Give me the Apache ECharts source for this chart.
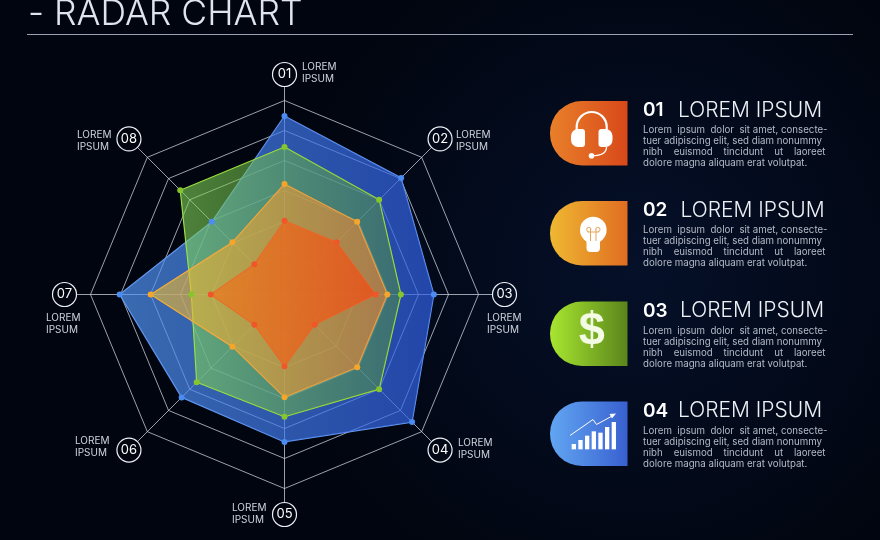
<!DOCTYPE html>
<html>
<head>
<meta charset="utf-8">
<style>html,body{margin:0;padding:0;background:#020818}#c{width:880px;height:540px}</style>
<script src="https://cdn.jsdelivr.net/npm/echarts@6/dist/echarts.min.js"></script>
</head>
<body>
<div id="c"></div>
<script>
const categories = ['01','02','03','04','05','06','07','08'];
const blueValues   = [92,85,77,93,76,75,85,53];
const greenValues  = [76,69,60,69,63,64,48,76];
const orangeValues = [57,53,53,53,53,38,69,38];
const redValues    = [38,38,47,22,37,22,38,22];
const axisMax = 100;
const ringRadii = [194,164,134,104,73,42];
const axisCaptions = [
  ['LOREM','IPSUM',302,67],['LOREM','IPSUM',456,135],['LOREM','IPSUM',487,318],['LOREM','IPSUM',458,443],
  ['LOREM','IPSUM',232,508],['LOREM','IPSUM',75,441],['LOREM','IPSUM',46,318],['LOREM','IPSUM',77,135]
];
const cardHeads = [['01','LOREM IPSUM',678],['02','LOREM IPSUM',680.5],['03','LOREM IPSUM',680],['04','LOREM IPSUM',678]];
const bodyLines = [
  'Lorem  ipsum  dolor  sit amet, consecte-',
  'tuer adipiscing elit, sed diam nonummy',
  'nibh    euismod    tincidunt    ut    laoreet',
  'dolore magna aliquam erat volutpat.'
];

const FONT = 'Inter, "Open Sans", sans-serif';
const center = [284.5, 294.5];
// ECharts lays radar axes out counter-clockwise; the chart reads clockwise from the top.
const cw = a => [a[0], ...a.slice(1).reverse()];
const indicator = () => cw(categories).map(n => ({name:n, min:0, max:axisMax}));
const ringColor = 'rgba(214,220,232,0.72)';

const radars = [{
  center, radius:208, startAngle:90, splitNumber:1, indicator:indicator(), shape:'polygon', nameGap:12,
  axisName:{show:true, align:'center', verticalAlign:'middle',
    formatter:n=>`{c|${n}}`,
    rich:{c:{width:24,height:24,lineHeight:24,align:'center',verticalAlign:'middle',borderRadius:12,borderWidth:1.2,borderColor:'#eef0f5',color:'#ffffff',fontSize:13,fontFamily:FONT,fontWeight:400}}},
  axisLine:{show:true,lineStyle:{color:ringColor,width:1}},
  axisTick:{show:false}, axisLabel:{show:false}, splitLine:{show:false}, splitArea:{show:false}
}].concat(ringRadii.map(r=>({
  center, radius:r, startAngle:90, splitNumber:1, indicator:indicator(), shape:'polygon',
  axisName:{show:false}, axisLine:{show:false}, axisTick:{show:false}, axisLabel:{show:false},
  splitLine:{show:false}, splitArea:{show:false}
})));

const ringSeries = ringRadii.map((r,i)=>({type:'radar',name:'ring',radarIndex:i+1,symbol:'none',silent:true,
  data:[{value:categories.map(()=>axisMax)}],lineStyle:{color:ringColor,width:1},areaStyle:{opacity:0}}));

const lg = (a,b)=>new echarts.graphic.LinearGradient(0,0,1,0,[{offset:0,color:a},{offset:1,color:b}]);
function radarSeries(name,vals,line,dot,a,b){
  return {type:'radar',name,radarIndex:1,symbol:'circle',symbolSize:6,
    data:[{value:cw(vals),name}],
    lineStyle:{color:line,width:1.2},
    itemStyle:{color:dot},
    areaStyle:{color:lg(a,b),opacity:1}};
}

const g = [];
g.push({type:'rect',z:-10,silent:true,shape:{x:0,y:0,width:880,height:540},style:{fill:new echarts.graphic.RadialGradient(0.72,0.5,0.65,[{offset:0,color:'#051029'},{offset:1,color:'#01050f'}])}});
g.push({type:'text',style:{x:28,y:14,text:'- RADAR CHART',fill:'#dfe4ee',font:'300 35.5px '+FONT,textVerticalAlign:'middle',verticalAlign:'middle'}});
g.push({type:'line',shape:{x1:27,y1:34.5,x2:853,y2:34.5},style:{stroke:'#9aa3b6',lineWidth:1}});

axisCaptions.forEach(c=>{
  [[c[0],c[3]],[c[1],c[3]+11.5]].forEach(t=>g.push({type:'text',style:{x:c[2],y:t[1],text:t[0],fill:'#cfd3dc',font:'400 10px '+FONT,verticalAlign:'middle',textVerticalAlign:'middle'}}));
});

const cards = [
  {y:101,a:'#e9802a',b:'#d8481a'},
  {y:201,a:'#efb832',b:'#e06d22'},
  {y:301.5,a:'#a8e630',b:'#5a851b'},
  {y:401.5,a:'#62a6f2',b:'#3860d0'}
];
cards.forEach((c,i)=>{
  g.push({type:'rect',shape:{x:550,y:c.y,width:77.5,height:64.5,r:[32,0,0,32]},style:{fill:lg(c.a,c.b)}});
  g.push({type:'text',style:{x:643,y:c.y+9.5,text:cardHeads[i][0],fill:'#ffffff',font:'600 19px '+FONT,verticalAlign:'middle',textVerticalAlign:'middle'}});
  g.push({type:'text',style:{x:cardHeads[i][2],y:c.y+9.5,text:cardHeads[i][1],fill:'#eef1f6',font:'300 21px '+FONT,verticalAlign:'middle',textVerticalAlign:'middle'}});
  bodyLines.forEach((l,k)=>g.push({type:'text',style:{x:643,y:c.y+29.5+k*11,text:l,fill:'#b4bac6',font:'400 9.7px '+FONT,verticalAlign:'middle',textVerticalAlign:'middle'}}));
});

// icon 1: headset
const W='#ffffff';
g.push({type:'arc',shape:{cx:591.7,cy:127,r:15,startAngle:Math.PI,endAngle:2*Math.PI},style:{stroke:W,fill:'none',lineWidth:2.2}});
g.push({type:'line',shape:{x1:576.7,y1:127,x2:576.7,y2:132},style:{stroke:W,lineWidth:2.2}});
g.push({type:'line',shape:{x1:606.7,y1:127,x2:606.7,y2:132},style:{stroke:W,lineWidth:2.2}});
g.push({type:'rect',shape:{x:571,y:129,width:14,height:18,r:[7,3,3,7]},style:{fill:W}});
g.push({type:'rect',shape:{x:598.5,y:129,width:14,height:18,r:[3,7,7,3]},style:{fill:W}});
g.push({type:'bezierCurve',shape:{x1:606.5,y1:147,cpx1:606.5,cpy1:153,cpx2:602,cpy2:155.7,x2:592,y2:155.7},style:{stroke:W,fill:'none',lineWidth:1.3}});
g.push({type:'circle',shape:{cx:591.5,cy:155.7,r:2.8},style:{fill:W}});
// icon 2: bulb
g.push({type:'circle',shape:{cx:593.3,cy:230,r:13.3},style:{fill:W}});
g.push({type:'rect',shape:{x:586.5,y:238,width:13.5,height:14,r:[0,0,4,4]},style:{fill:W}});
g.push({type:'line',shape:{x1:590.5,y1:229,x2:590.5,y2:241},style:{stroke:'#e8a55a',lineWidth:1}});
g.push({type:'line',shape:{x1:596,y1:229,x2:596,y2:241},style:{stroke:'#e8a55a',lineWidth:1}});
g.push({type:'line',shape:{x1:587.5,y1:232,x2:599,y2:232},style:{stroke:'#e8a55a',lineWidth:1}});
g.push({type:'arc',shape:{cx:588.8,cy:229.5,r:2.2,startAngle:Math.PI/2,endAngle:0},style:{stroke:'#e8a55a',fill:'none',lineWidth:1}});
g.push({type:'arc',shape:{cx:597.8,cy:229.5,r:2.2,startAngle:Math.PI,endAngle:Math.PI/2},style:{stroke:'#e8a55a',fill:'none',lineWidth:1}});
// icon 3: dollar
g.push({type:'text',style:{x:591.7,y:332.5,text:'$',fill:'#f4fbe4',font:'700 47px "Liberation Sans", sans-serif',align:'center',verticalAlign:'middle',textAlign:'center',textVerticalAlign:'middle'}});
// icon 4: growth
[[95,462],[115,450],[135,437],[155,424],[175,428],[195,411],[215,396]].forEach(b=>{
  g.push({type:'rect',shape:{x:540+b[0]/3,y:290+b[1]/3,width:4.3,height:(478-b[1])/3},style:{fill:W}});
});
g.push({type:'polyline',shape:{points:[[570,435.5],[593,419.5],[596.5,424.5],[614,415]]},style:{stroke:W,fill:'none',lineWidth:1}});
g.push({type:'polygon',shape:{points:[[616,413.5],[609.5,414],[612,418.5]]},style:{fill:W}});

const chart = echarts.init(document.getElementById('c'));
chart.setOption({
  animation:false,
  backgroundColor:'#020818',
  radar:radars,
  series:ringSeries.concat([
    radarSeries('Blue',blueValues,'#6a9cf0','#4a8cf2','rgba(82,150,244,0.7)','rgba(48,96,230,0.7)'),
    radarSeries('Green',greenValues,'#a6e63a','#86c62c','rgba(130,215,90,0.6)','rgba(90,160,40,0.42)'),
    radarSeries('Orange',orangeValues,'#f0a840','#f5a52a','rgba(240,190,50,0.6)','rgba(240,130,50,0.6)'),
    radarSeries('Red',redValues,'#e86a30','#f0562a','rgba(235,120,30,0.72)','rgba(235,80,25,0.8)')
  ]),
  graphic:{elements:g}
});
</script>
</body>
</html>
